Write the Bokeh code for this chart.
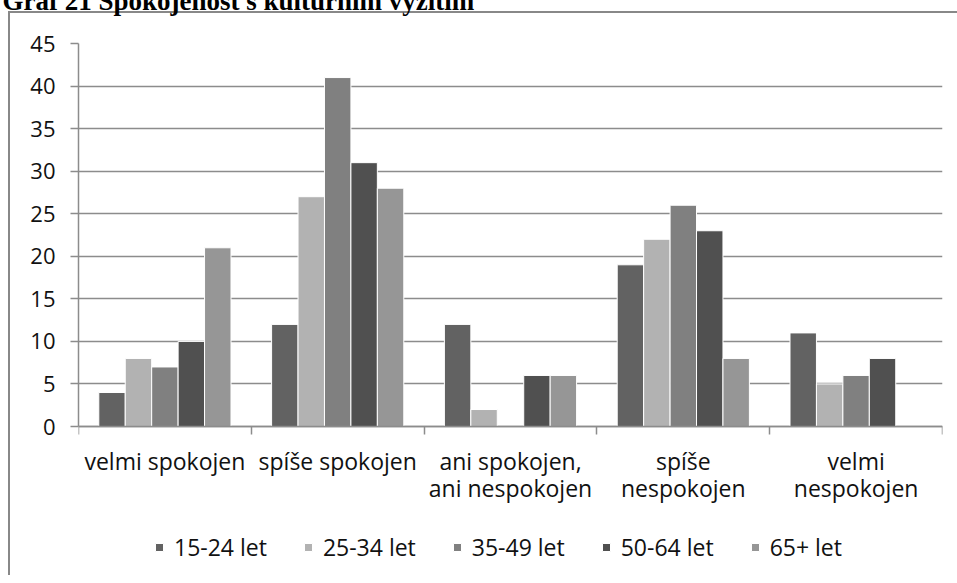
from bokeh.plotting import figure
from bokeh.models import Range1d, FixedTicker, Legend, LegendItem, Title
from bokeh.embed import file_html
from bokeh.resources import INLINE

# ---- data ----
title_text = "Graf 21 Spokojenost s kulturním vyžitím"
categories = ["velmi spokojen", "spíše spokojen", "ani spokojen,\nani nespokojen",
              "spíše\nnespokojen", "velmi\nnespokojen"]
series = ["15-24 let", "25-34 let", "35-49 let", "50-64 let", "65+ let"]
v15_24 = [4, 12, 12, 19, 11]
v25_34 = [8, 27, 2, 22, 5]
v35_49 = [7, 41, 0, 26, 6]
v50_64 = [10, 31, 6, 23, 8]
v65 = [21, 28, 6, 8, 0]
y_ticks = [0, 5, 10, 15, 20, 25, 30, 35, 40, 45]
colors = ["#626262", "#b2b2b2", "#808080", "#505050", "#969696"]

values = [v15_24, v25_34, v35_49, v50_64, v65]
n = len(categories)
bar_w = 0.153
font = "Open Sans"
gray = "#8c8c8c"
shift = 43  # part of the page title that sits above the window

border_css = (f"linear-gradient(#888888,#888888) 8px {11 + shift}px / 2px 100% no-repeat, "
              f"linear-gradient(#888888,#888888) 8px {11 + shift}px / 100% 2px no-repeat, white")

# frame runs from the 45 line down to the bottom of the window; the x axis sits at 0
p = figure(frame_width=864, frame_height=532,
           min_border_left=78, min_border_right=15, min_border_top=43 + shift,
           min_border_bottom=0,
           x_range=Range1d(0, n), y_range=Range1d(-17.5, 45),
           output_backend="svg", toolbar_location=None,
           styles={"background": border_css, "margin-top": f"-{shift}px"})
p.border_fill_color = None
p.background_fill_color = "white"
p.outline_line_color = None
p.xgrid.visible = False
p.ygrid.ticker = FixedTicker(ticks=y_ticks)
p.ygrid.grid_line_color = gray
p.ygrid.grid_line_width = 1.5

p.title = Title(text=title_text, align="left", vertical_align="top", offset=-76,
                standoff=52, text_font="Liberation Serif", text_font_style="bold",
                text_font_size="27px", text_color="black")

items = []
for j, (name, vals, col) in enumerate(zip(series, values, colors)):
    xs = [i + 0.5 + (j - 2) * bar_w for i in range(n)]
    r = p.vbar(x=xs, top=vals, width=bar_w, bottom=0, fill_color=col,
               line_color="white", line_width=1)
    items.append(LegendItem(label=name, renderers=[r]))

# y axis
ya = p.yaxis[0]
ya.ticker = FixedTicker(ticks=y_ticks)
ya.bounds = (0, 45)
ya.axis_line_color = gray
ya.axis_line_width = 1.5
ya.major_tick_line_color = gray
ya.major_tick_line_width = 1.5
ya.major_tick_out = 8
ya.major_tick_in = 0
ya.minor_tick_line_color = None
ya.major_label_standoff = 15
ya.major_label_text_font = font
ya.major_label_text_font_size = "22px"
ya.major_label_text_color = "#111111"

# x axis, drawn at value 0
xa = p.xaxis[0]
xa.fixed_location = 0
centers = [i + 0.5 for i in range(n)]
xa.ticker = FixedTicker(ticks=centers, minor_ticks=list(range(n + 1)))
xa.major_label_overrides = {c: lab for c, lab in zip(centers, categories)}
xa.axis_line_color = gray
xa.axis_line_width = 1.5
xa.major_tick_line_color = None
xa.major_tick_out = 0
xa.major_tick_in = 0
xa.minor_tick_line_color = gray
xa.minor_tick_line_width = 1.5
xa.minor_tick_out = 8
xa.minor_tick_in = 0
xa.major_label_standoff = 10
xa.major_label_text_font = font
xa.major_label_text_font_size = "23px"
xa.major_label_text_line_height = 0.86
xa.major_label_text_color = "#111111"
xa.major_label_orientation = "horizontal"

legend = Legend(items=items, orientation="horizontal", location=(76, 12),
                glyph_width=10, glyph_height=10, label_standoff=10, spacing=36,
                padding=0, margin=0, border_line_alpha=0, background_fill_alpha=0,
                label_text_font=font, label_text_font_size="23px",
                label_text_color="#111111")
p.add_layout(legend)

open("out.html", "w").write(file_html(p, INLINE))
